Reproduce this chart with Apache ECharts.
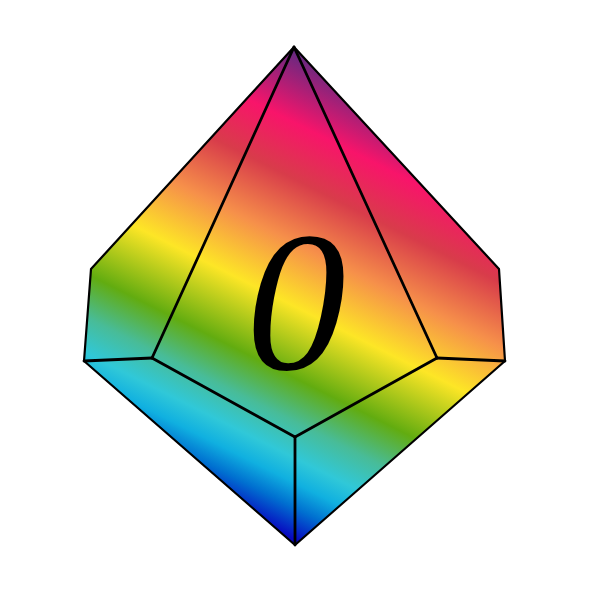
<!DOCTYPE html>
<html>
<head>
<meta charset="utf-8">
<script src="https://cdn.jsdelivr.net/npm/echarts@6/dist/echarts.min.js"></script>
<style>
  html, body { margin: 0; padding: 0; background: #fff; }
  #chart { width: 591px; height: 591px; }
</style>
</head>
<body>
<div id="chart"></div>
<script>
// die corners, in plot units (x right, y down)
const top_ = [294, 47];
const leftUpper = [91, 269];
const leftLower = [84, 361];
const innerLeft = [152, 358];
const bottomInner = [295, 437];
const innerRight = [437, 358];
const rightLower = [505, 361];
const rightUpper = [499, 269];
const bottom = [295, 545];

const outline = [top_, leftUpper, leftLower, bottom, rightLower, rightUpper];
const edges = [
    [top_, innerLeft],
    [top_, innerRight],
    [leftLower, innerLeft],
    [innerLeft, bottomInner],
    [bottomInner, innerRight],
    [innerRight, rightLower],
    [bottomInner, bottom],
];

// rainbow band, start and end of gradient axis
const gradientFrom = [40, -80];
const gradientTo = [-159, 317];
const stopOffsets = [0, 0.151, 0.265, 0.393, 0.521, 0.665, 0.753, 0.826, 0.876, 0.926, 0.99];
const stopColors = ["#5e2a82", "#f8146a", "#d83c4a", "#f6904a", "#fde626", "#62ac10", "#48bc98", "#30c8d8", "#10b0e0", "#0070d0", "#0808c0"];

const label = "0";
const labelAt = [296, 316];

const chart = echarts.init(document.getElementById("chart"), null, { renderer: "canvas" });

function renderDie(params, api) {
    const pts = outline.map((p) => api.coord(p));
    const g0 = api.coord(gradientFrom);
    const g1 = api.coord(gradientTo);
    const children = [
        {
            type: "polygon",
            shape: { points: pts },
            style: {
                fill: {
                    type: "linear",
                    x: g0[0], y: g0[1], x2: g1[0], y2: g1[1],
                    global: true,
                    colorStops: stopOffsets.map((o, i) => ({ offset: o, color: stopColors[i] })),
                },
                stroke: "#000",
                lineWidth: 2.2,
                lineJoin: "round",
            },
        },
    ];
    edges.forEach((e) => {
        const a = api.coord(e[0]);
        const b = api.coord(e[1]);
        children.push({
            type: "line",
            shape: { x1: a[0], y1: a[1], x2: b[0], y2: b[1] },
            style: { stroke: "#000", lineWidth: 2.8, lineCap: "round" },
        });
    });
    return { type: "group", children: children };
}

chart.setOption({
    animation: false,
    grid: { left: 0, right: 0, top: 0, bottom: 0 },
    xAxis: { type: "value", min: 0, max: 591, show: false },
    yAxis: { type: "value", min: 0, max: 591, inverse: true, show: false },
    series: [
        {
            type: "custom",
            renderItem: renderDie,
            data: [[0, 0]],
            silent: true,
        },
        {
            type: "scatter",
            data: [labelAt],
            symbolSize: 0,
            silent: true,
            itemStyle: { opacity: 1 },
            label: {
                show: true,
                position: "inside",
                formatter: label,
                color: "#000",
                fontFamily: "Liberation Serif",
                fontStyle: "italic",
                fontSize: 200,
            },
        },
    ],
});

window.addEventListener("resize", () => chart.resize());
</script>
</body>
</html>
